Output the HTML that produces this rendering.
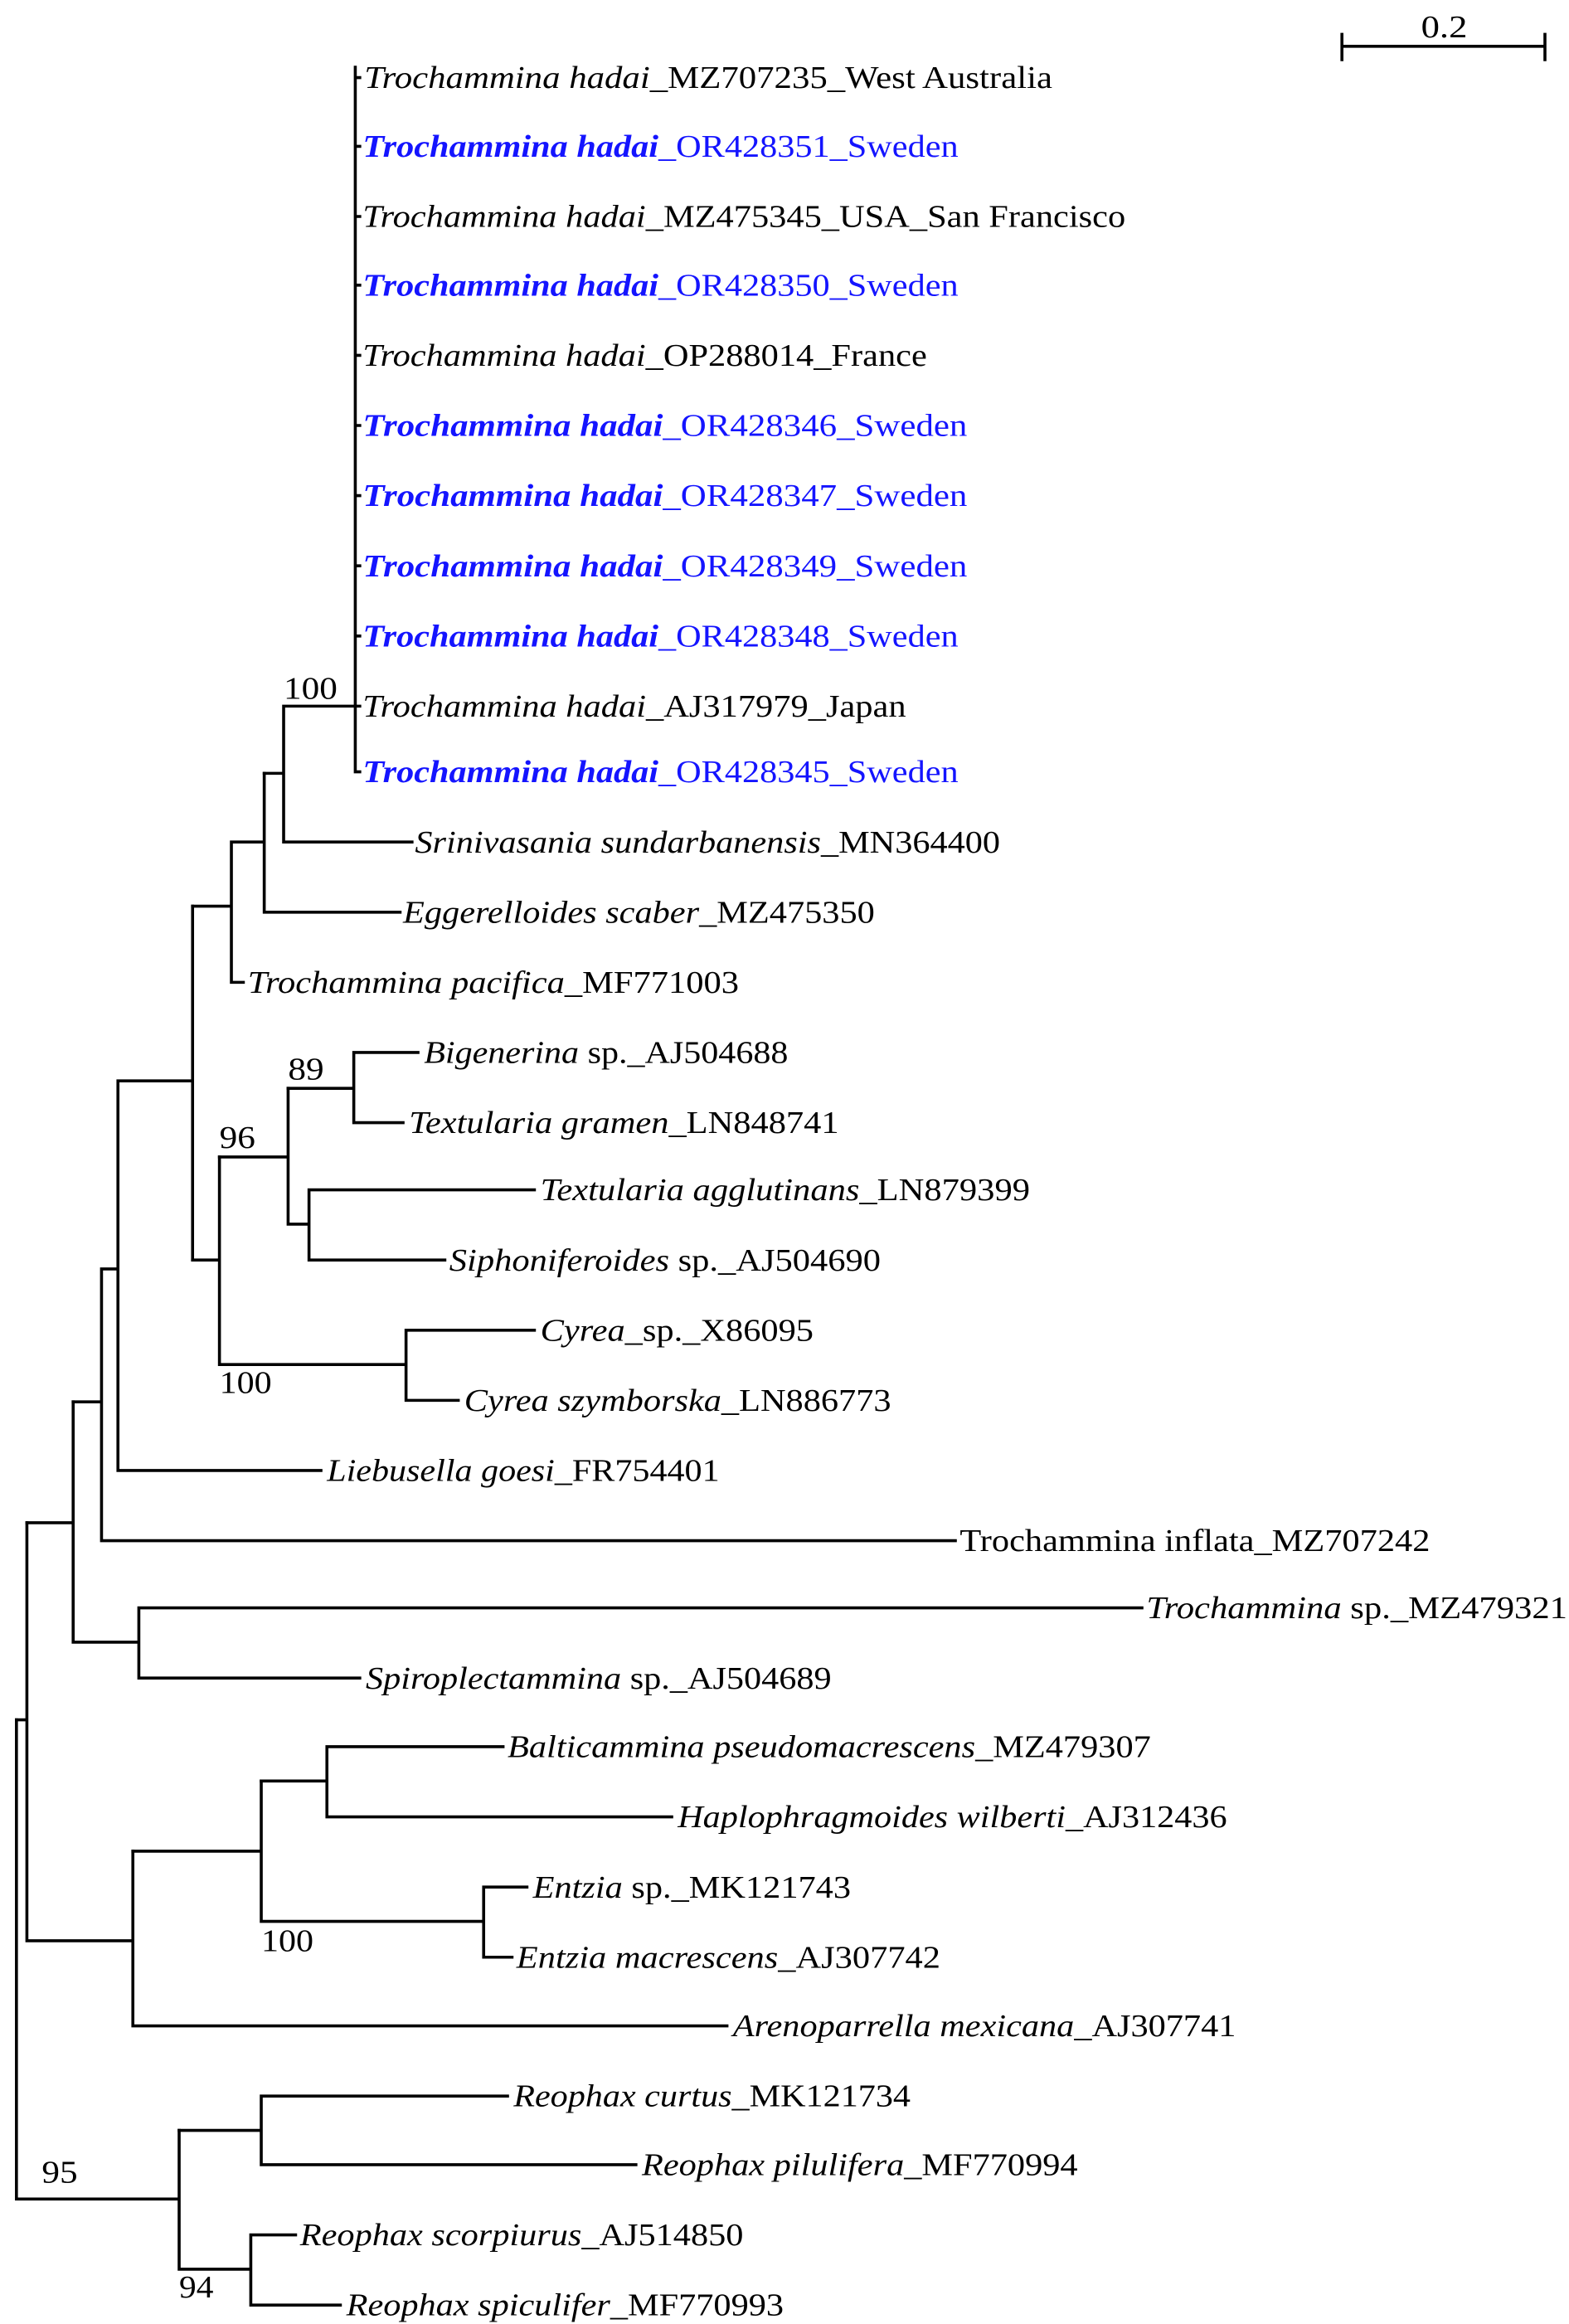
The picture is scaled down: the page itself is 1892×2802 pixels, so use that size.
<!DOCTYPE html>
<html><head><meta charset="utf-8"><style>
html,body{margin:0;padding:0;background:#fff;}
svg{display:block;}
text{font-family:"Liberation Serif","Times New Roman",Times,serif;font-size:21px;}
.i{font-style:italic}
.b{fill:#1414ff}
.bi{font-style:italic;font-weight:bold}
</style></head><body>
<svg width="1892" height="2802" viewBox="0 0 1051.1 1556.7" xmlns="http://www.w3.org/2000/svg">
<g stroke="#000" stroke-width="2" fill="none" stroke-linecap="square">
<path d="M899 31H1035M899 23V40M1035 23V40"/>
<path d="M238 45V517M238 52H241M238 98H241M238 145H241M238 191H241M238 238H241M238 285H241M238 332H241M238 379H241M238 426H241M238 473H241M238 517H241"/>
<path d="M190 473H238M190 473V564M190 564H276M177 518H190"/>
<path d="M177 518V611M177 611H268M155 564H177M155 564V658M155 658H163M129 607H155"/>
<path d="M237 705V752M237 705H280M237 752H270M193 729H237"/>
<path d="M207 797V844M207 797H358M207 844H298M193 820H207M193 729V820M147 775H193"/>
<path d="M272 891V938M272 891H358M272 938H307M147 914H272M147 775V914M129 844H147"/>
<path d="M129 607V844M79 724H129M79 724V985M79 985H215M68 850H79M68 850V1032M68 1032H640M49 939H68"/>
<path d="M93 1077V1124M93 1077H765M93 1124H241M49 1100H93M49 939V1100M18 1020H49"/>
<path d="M219 1170V1217M219 1170H337M219 1217H450M175 1193H219"/>
<path d="M324 1264V1311M324 1264H353M324 1311H343M175 1287H324M175 1193V1287M89 1240H175"/>
<path d="M89 1240V1357M89 1357H487M18 1300H89M18 1020V1300M11 1152H18"/>
<path d="M175 1404V1450M175 1404H340M175 1450H426M120 1427H175"/>
<path d="M168 1497V1544M168 1497H198M168 1544H228M120 1520H168M120 1427V1520M11 1473H120M11 1152V1473"/>
</g>
<g font-family="Liberation Serif, Times New Roman, Times, serif">
<text x="952" y="25" textLength="31" lengthAdjust="spacingAndGlyphs">0.2</text>
<text x="244" y="59" textLength="461" lengthAdjust="spacingAndGlyphs"><tspan class="i">Trochammina hadai</tspan>_MZ707235_West Australia</text>
<text class="b" x="243" y="105" textLength="399" lengthAdjust="spacingAndGlyphs"><tspan class="bi">Trochammina hadai</tspan>_OR428351_Sweden</text>
<text x="243" y="152" textLength="511" lengthAdjust="spacingAndGlyphs"><tspan class="i">Trochammina hadai</tspan>_MZ475345_USA_San Francisco</text>
<text class="b" x="243" y="198" textLength="399" lengthAdjust="spacingAndGlyphs"><tspan class="bi">Trochammina hadai</tspan>_OR428350_Sweden</text>
<text x="243" y="245" textLength="378" lengthAdjust="spacingAndGlyphs"><tspan class="i">Trochammina hadai</tspan>_OP288014_France</text>
<text class="b" x="243" y="292" textLength="405" lengthAdjust="spacingAndGlyphs"><tspan class="bi">Trochammina  hadai</tspan>_OR428346_Sweden</text>
<text class="b" x="243" y="339" textLength="405" lengthAdjust="spacingAndGlyphs"><tspan class="bi">Trochammina  hadai</tspan>_OR428347_Sweden</text>
<text class="b" x="243" y="386" textLength="405" lengthAdjust="spacingAndGlyphs"><tspan class="bi">Trochammina  hadai</tspan>_OR428349_Sweden</text>
<text class="b" x="243" y="433" textLength="399" lengthAdjust="spacingAndGlyphs"><tspan class="bi">Trochammina hadai</tspan>_OR428348_Sweden</text>
<text x="243" y="480" textLength="364" lengthAdjust="spacingAndGlyphs"><tspan class="i">Trochammina hadai</tspan>_AJ317979_Japan</text>
<text class="b" x="243" y="524" textLength="399" lengthAdjust="spacingAndGlyphs"><tspan class="bi">Trochammina hadai</tspan>_OR428345_Sweden</text>
<text x="190" y="468" textLength="36" lengthAdjust="spacingAndGlyphs">100</text>
<text x="278" y="571" textLength="392" lengthAdjust="spacingAndGlyphs"><tspan class="i">Srinivasania sundarbanensis</tspan>_MN364400</text>
<text x="270" y="618" textLength="316" lengthAdjust="spacingAndGlyphs"><tspan class="i">Eggerelloides scaber</tspan>_MZ475350</text>
<text x="166" y="665" textLength="329" lengthAdjust="spacingAndGlyphs"><tspan class="i">Trochammina pacifica</tspan>_MF771003</text>
<text x="284" y="712" textLength="244" lengthAdjust="spacingAndGlyphs"><tspan class="i">Bigenerina</tspan> sp._AJ504688</text>
<text x="274" y="759" textLength="288" lengthAdjust="spacingAndGlyphs"><tspan class="i">Textularia gramen</tspan>_LN848741</text>
<text x="193" y="723" textLength="24" lengthAdjust="spacingAndGlyphs">89</text>
<text x="362" y="804" textLength="328" lengthAdjust="spacingAndGlyphs"><tspan class="i">Textularia agglutinans</tspan>_LN879399</text>
<text x="301" y="851" textLength="289" lengthAdjust="spacingAndGlyphs"><tspan class="i">Siphoniferoides</tspan> sp._AJ504690</text>
<text x="147" y="769" textLength="24" lengthAdjust="spacingAndGlyphs">96</text>
<text x="362" y="898" textLength="183" lengthAdjust="spacingAndGlyphs"><tspan class="i">Cyrea</tspan>_sp._X86095</text>
<text x="311" y="945" textLength="286" lengthAdjust="spacingAndGlyphs"><tspan class="i">Cyrea szymborska</tspan>_LN886773</text>
<text x="147" y="933" textLength="35" lengthAdjust="spacingAndGlyphs">100</text>
<text x="219" y="992" textLength="263" lengthAdjust="spacingAndGlyphs"><tspan class="i">Liebusella goesi</tspan>_FR754401</text>
<text x="643" y="1039" textLength="315" lengthAdjust="spacingAndGlyphs">Trochammina inflata_MZ707242</text>
<text x="768" y="1084" textLength="282" lengthAdjust="spacingAndGlyphs"><tspan class="i">Trochammina</tspan> sp._MZ479321</text>
<text x="245" y="1131" textLength="312" lengthAdjust="spacingAndGlyphs"><tspan class="i">Spiroplectammina</tspan> sp._AJ504689</text>
<text x="340" y="1177" textLength="431" lengthAdjust="spacingAndGlyphs"><tspan class="i">Balticammina pseudomacrescens</tspan>_MZ479307</text>
<text x="454" y="1224" textLength="368" lengthAdjust="spacingAndGlyphs"><tspan class="i">Haplophragmoides wilberti</tspan>_AJ312436</text>
<text x="357" y="1271" textLength="213" lengthAdjust="spacingAndGlyphs"><tspan class="i">Entzia</tspan> sp._MK121743</text>
<text x="346" y="1318" textLength="284" lengthAdjust="spacingAndGlyphs"><tspan class="i">Entzia macrescens</tspan>_AJ307742</text>
<text x="175" y="1307" textLength="35" lengthAdjust="spacingAndGlyphs">100</text>
<text x="491" y="1364" textLength="337" lengthAdjust="spacingAndGlyphs"><tspan class="i">Arenoparrella mexicana</tspan>_AJ307741</text>
<text x="344" y="1411" textLength="266" lengthAdjust="spacingAndGlyphs"><tspan class="i">Reophax curtus</tspan>_MK121734</text>
<text x="430" y="1457" textLength="292" lengthAdjust="spacingAndGlyphs"><tspan class="i">Reophax pilulifera</tspan>_MF770994</text>
<text x="201" y="1504" textLength="297" lengthAdjust="spacingAndGlyphs"><tspan class="i">Reophax scorpiurus</tspan>_AJ514850</text>
<text x="232" y="1551" textLength="293" lengthAdjust="spacingAndGlyphs"><tspan class="i">Reophax spiculifer</tspan>_MF770993</text>
<text x="120" y="1539" textLength="23" lengthAdjust="spacingAndGlyphs">94</text>
<text x="28" y="1462" textLength="24" lengthAdjust="spacingAndGlyphs">95</text>
</g>
</svg>
</body></html>
